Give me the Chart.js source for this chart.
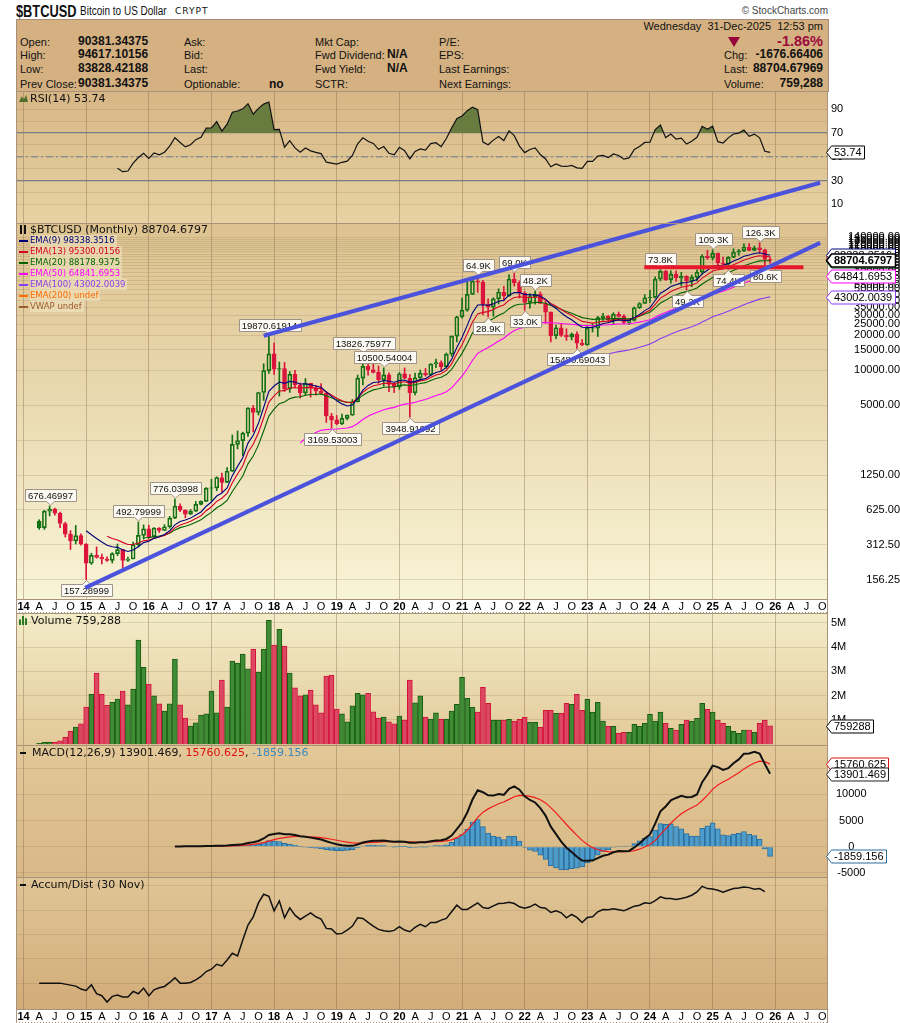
<!DOCTYPE html>
<html>
<head>
<meta charset="utf-8">
<title>$BTCUSD Monthly</title>
<script src="https://cdn.jsdelivr.net/npm/chart.js@4.4.1/dist/chart.umd.min.js"></script>
<style>
  body { margin: 0; background: #fff; }
  #page { position: relative; width: 900px; height: 1023px; overflow: hidden; font-family: "Liberation Sans", Arial, sans-serif; color: #111; }
  canvas { position: absolute; left: 16px; }
  .t { position: absolute; white-space: nowrap; font-size: 11px; line-height: 14px; z-index: 5; }
  .v { font-weight: bold; font-size: 12px; }
  .lg { position: absolute; white-space: nowrap; font-family: "DejaVu Sans", Verdana, sans-serif; z-index: 5; line-height: 12px; font-size: 11px; }
  .ema { font-size: 8.5px; line-height: 11px; background: rgba(243,232,196,0.55); padding-right: 2px; }
  .ico { position: absolute; left: -11px; top: 5px; width: 9px; height: 2px; }
  #hdr { position: absolute; left: 16px; top: 19px; width: 811px; height: 72px; background: #d5b182; border: 1px solid #a88e78; border-bottom: none; }
</style>
</head>
<body>
<div id="page">
  <div class="t" style="left:16px;top:3px;font:bold 16px 'Liberation Sans',Arial;transform:scaleX(0.8);transform-origin:left">$BTCUSD</div>
  <div class="t" style="left:80px;top:4px;font-size:12.5px;transform:scaleX(0.8);transform-origin:left">Bitcoin to US Dollar</div>
  <div class="t" style="left:175px;top:6px;font:9px 'DejaVu Sans';letter-spacing:1px">CRYPT</div>
  <div class="t" style="right:72px;top:4px;font-size:10px;color:#444">&#169; StockCharts.com</div>
  <div id="hdr"></div>

  <div class="t" style="left:20px;top:35px">Open:</div>
  <div class="t" style="left:20px;top:48px">High:</div>
  <div class="t" style="left:20px;top:62px">Low:</div>
  <div class="t" style="left:20px;top:77px">Prev Close:</div>
  <div class="t v" style="left:78px;top:34px">90381.34375</div>
  <div class="t v" style="left:78px;top:47px">94617.10156</div>
  <div class="t v" style="left:78px;top:61px">83828.42188</div>
  <div class="t v" style="left:78px;top:76px">90381.34375</div>

  <div class="t" style="left:184px;top:35px">Ask:</div>
  <div class="t" style="left:184px;top:48px">Bid:</div>
  <div class="t" style="left:184px;top:62px">Last:</div>
  <div class="t" style="left:184px;top:77px">Optionable:</div>
  <div class="t v" style="left:269px;top:77px">no</div>

  <div class="t" style="left:315px;top:35px">Mkt Cap:</div>
  <div class="t" style="left:315px;top:48px">Fwd Dividend:</div>
  <div class="t" style="left:315px;top:62px">Fwd Yield:</div>
  <div class="t" style="left:315px;top:77px">SCTR:</div>
  <div class="t v" style="left:387px;top:47px">N/A</div>
  <div class="t v" style="left:387px;top:61px">N/A</div>

  <div class="t" style="left:439px;top:35px">P/E:</div>
  <div class="t" style="left:439px;top:48px">EPS:</div>
  <div class="t" style="left:439px;top:62px">Last Earnings:</div>
  <div class="t" style="left:439px;top:77px">Next Earnings:</div>

  <div class="t" style="right:77px;top:19px">Wednesday&nbsp; 31-Dec-2025&nbsp; 12:53 pm</div>
  <div class="t" style="left:728px;top:37px;width:0;height:0;border-left:6px solid transparent;border-right:6px solid transparent;border-top:10px solid #95053a"></div>
  <div class="t" style="right:77px;top:34px;font-weight:bold;font-size:14.5px;color:#9b0a3c">-1.86%</div>
  <div class="t" style="left:724px;top:48px">Chg:</div>
  <div class="t v" style="right:77px;top:47px">-1676.66406</div>
  <div class="t" style="left:724px;top:62px">Last:</div>
  <div class="t v" style="right:77px;top:61px">88704.67969</div>
  <div class="t" style="left:724px;top:77px">Volume:</div>
  <div class="t v" style="right:77px;top:76px">759,288</div>

  <canvas id="cRsi" width="884" height="132" style="top:91px"></canvas>
  <canvas id="cMain" width="884" height="522" style="top:91px"></canvas>
  <canvas id="cVol" width="884" height="132" style="top:613px"></canvas>
  <canvas id="cMacd" width="884" height="132" style="top:745px"></canvas>
  <canvas id="cAd" width="884" height="146" style="top:877px"></canvas>

  <div class="lg" style="left:30px;top:93px"><span class="ico" style="background:#4f6d2c;height:7px;top:2px;clip-path:polygon(0 100%,30% 20%,55% 60%,80% 0,100% 100%)"></span>RSI(14) 53.74</div>

  <div class="lg" style="left:30px;top:224px"><span class="ico" style="left:-10px;top:1px;width:7px;height:9px;background:linear-gradient(90deg,#111 0 2px,transparent 2px 4px,#111 4px 6px,transparent 6px)"></span>$BTCUSD (Monthly) 88704.6797</div>
  <div class="lg ema" style="left:30px;top:235px;color:#00007a"><span class="ico" style="background:#00007a"></span>EMA(9) 98338.3516</div>
  <div class="lg ema" style="left:30px;top:246px;color:#d40022"><span class="ico" style="background:#d40022"></span>EMA(13) 95300.0156</div>
  <div class="lg ema" style="left:30px;top:257px;color:#006400"><span class="ico" style="background:#006400"></span>EMA(20) 88178.9375</div>
  <div class="lg ema" style="left:30px;top:268px;color:#ff00ff"><span class="ico" style="background:#ff00ff"></span>EMA(50) 64841.6953</div>
  <div class="lg ema" style="left:30px;top:279px;color:#8a3cf0"><span class="ico" style="background:#8a3cf0"></span>EMA(100) 43002.0039</div>
  <div class="lg ema" style="left:30px;top:290px;color:#ff6a00"><span class="ico" style="background:#ff6a00"></span>EMA(200) undef</div>
  <div class="lg ema" style="left:30px;top:301px;color:#9a5a2a"><span class="ico" style="background:#9a5a2a"></span>VWAP undef</div>

  <div class="lg" style="left:31px;top:615px"><span class="ico" style="left:-12px;top:1px;width:9px;height:9px;background:linear-gradient(90deg,#2a7a22 0 2px,transparent 2px 3px,#2a7a22 3px 5px,transparent 5px 6px,#2a7a22 6px 8px,transparent 8px);clip-path:polygon(0 40%,30% 40%,30% 0,60% 0,60% 25%,100% 25%,100% 100%,0 100%)"></span>Volume 759,288</div>
  <div class="lg" style="left:32px;top:747px"><span class="ico" style="left:-12px;background:#111;width:6px"></span>MACD(12,26,9) 13901.469, <span style="color:#e01010">15760.625</span>, <span style="color:#3a8ac0">-1859.156</span></div>
  <div class="lg" style="left:31px;top:879px"><span class="ico" style="left:-11px;background:#111;width:6px"></span>Accum/Dist (30 Nov)</div>
</div>

<script>
// month index counted from Jan 2014; first monthly bar is Apr 2014
const FIRST_MONTH = 3;

const opens = [
  500, 440, 610, 635, 586, 478, 387, 338, 376,
  318, 217, 254, 244, 236, 230, 263, 284, 230, 236, 314, 377,
  430, 368, 437, 416, 448, 531, 673, 624, 575, 609, 698, 742,
  964, 970, 1190, 1080, 1348, 2300, 2480, 2875, 4735, 4340, 6440, 9946,
  13860, 10220, 10330, 6930, 9240, 7500, 6390, 7730, 7010, 6625, 6320, 4040,
  3740, 3460, 3850, 4100, 5350, 8570, 10820, 10080, 9600, 8300, 9150, 7560,
  7200, 9350, 8540, 6410, 8630, 9450, 9140, 11350, 11660, 10780, 13800, 19700,
  29000, 33100, 45240, 58800, 57700, 37300, 35040, 41460, 47100, 43800, 61300, 57000,
  46300, 38500, 43200, 45500, 37700, 31800, 19950, 23300, 20000, 19430, 20500, 17170,
  16550, 23140, 23150, 28480, 29270, 27220, 30480, 29230, 25940, 26970, 34660, 37720,
  42280, 42580, 61200, 71300, 60650, 67500, 62700, 64600, 58970, 63300, 70200, 96400,
  93400, 102400, 84300, 82500, 94200, 104600, 107100, 115800, 108300, 114100, 109600, 90381.34
];
const highs = [
  515, 620, 676.47, 650, 600, 490, 415, 460, 390,
  320, 265, 300, 260, 247, 268, 318, 286, 245, 330, 492.8, 465,
  462, 440, 440, 467, 550, 776.04, 705, 627, 630, 740, 750, 975,
  1150, 1210, 1300, 1450, 2770, 3000, 2930, 4770, 4980, 6470, 11400, 19870.62,
  17180, 11790, 11700, 9760, 9990, 7760, 8490, 7750, 7400, 7680, 6550, 4260,
  4070, 4200, 4130, 5600, 9100, 13826.76, 13180, 12330, 10900, 10500.54, 9500, 7750,
  9580, 10500, 9190, 9470, 10070, 10380, 11450, 12480, 12080, 14100, 19860, 29300,
  41950, 58350, 61800, 64900, 59600, 41300, 42300, 50500, 52900, 67000, 69000, 59100,
  47900, 45800, 48200, 47400, 40000, 31900, 24600, 25200, 22800, 21000, 21450, 18400,
  23950, 25250, 29200, 31000, 29820, 31400, 31800, 30200, 27500, 35200, 38450, 45000,
  48970, 64000, 73800, 72800, 71950, 72000, 70000, 65600, 66500, 73600, 99600, 108300,
  109300, 102800, 95000, 95800, 112000, 110600, 123200, 124400, 117900, 126300, 111200, 94617.1
];
const lows = [
  425, 425, 555, 565, 440, 365, 285, 318, 310,
  157.29, 212, 240, 214, 225, 218, 253, 198, 225, 236, 300, 350,
  355, 365, 400, 415, 435, 525, 605, 535, 570, 605, 690, 740,
  750, 915, 890, 1080, 1340, 2100, 1840, 2690, 2950, 4120, 5500, 9400,
  9200, 6000, 6580, 6450, 7050, 5780, 6120, 5880, 6100, 6180, 3550, 3169.53,
  3400, 3400, 3740, 4090, 5330, 7470, 9100, 9500, 7730, 7300, 6550, 6430,
  6860, 8460, 3948.92, 6150, 8130, 8900, 8980, 10530, 9900, 10400, 13240, 17600,
  28130, 32300, 45000, 47050, 30000, 28900, 29300, 37400, 39600, 43300, 53300, 42000,
  33000, 34300, 37200, 37500, 25400, 17600, 18800, 19600, 18150, 18300, 15480.69, 16300,
  16500, 21400, 19600, 26940, 25800, 24800, 28860, 25300, 24900, 26560, 34100, 37600,
  38500, 41900, 59100, 59600, 56550, 58400, 53500, 49200, 52600, 58900, 66800, 90600,
  89200, 78200, 76600, 74400, 93400, 98200, 105300, 107400, 107300, 102000, 80600, 83828.42
];
const closes = [
  440, 610, 635, 586, 478, 387, 338, 376, 318,
  217, 254, 244, 236, 230, 263, 284, 230, 236, 314, 377, 430,
  368, 437, 416, 448, 531, 673, 624, 575, 609, 698, 742, 964,
  970, 1190, 1080, 1348, 2300, 2480, 2875, 4735, 4340, 6440, 9946, 13860,
  10220, 10330, 6930, 9240, 7500, 6390, 7730, 7010, 6625, 6320, 4040, 3740,
  3460, 3850, 4100, 5350, 8570, 10820, 10080, 9600, 8300, 9150, 7560, 7200,
  9350, 8540, 6410, 8630, 9450, 9140, 11350, 11660, 10780, 13800, 19700, 29000,
  33100, 45240, 58800, 57700, 37300, 35040, 41460, 47100, 43800, 61300, 57000, 46300,
  38500, 43200, 45500, 37700, 31800, 19950, 23300, 20000, 19430, 20500, 17170, 16550,
  23140, 23150, 28480, 29270, 27220, 30480, 29230, 25940, 26970, 34660, 37720, 42280,
  42580, 61200, 71300, 60650, 67500, 62700, 64600, 58970, 63300, 70200, 96400, 93400,
  102400, 84300, 82500, 94200, 104600, 107100, 115800, 108300, 114100, 109600, 90381.34, 88704.68
];
// millions
const volumes = [
  0.04, 0.08, 0.08, 0.08, 0.14, 0.30, 0.53, 0.71, 0.84,
  1.53, 2.05, 2.93, 2.05, 1.60, 1.73, 1.86, 2.19, 1.62, 2.27, 4.29, 3.16,
  2.48, 1.99, 1.66, 1.37, 1.66, 3.50, 1.62, 1.08, 0.75, 0.88, 1.19, 1.25,
  2.19, 1.29, 2.64, 1.53, 3.42, 3.34, 3.71, 3.10, 3.92, 2.97, 3.92, 5.10,
  4.08, 4.73, 4.04, 2.93, 2.32, 1.99, 2.03, 2.23, 1.62, 1.29, 2.81, 2.85,
  1.45, 1.25, 0.92, 1.58, 2.10, 2.03, 2.10, 1.33, 1.08, 1.12, 0.92, 0.84,
  1.16, 1.00, 2.64, 1.70, 1.99, 1.12, 1.04, 1.29, 1.04, 1.04, 1.37, 1.64,
  2.75, 1.89, 1.52, 1.32, 2.34, 1.68, 0.99, 0.99, 0.99, 1.03, 0.95, 1.03,
  1.11, 0.90, 0.90, 0.70, 1.40, 1.40, 1.27, 1.27, 1.68, 1.64, 2.05, 1.40,
  1.85, 1.32, 1.73, 0.95, 0.74, 0.74, 0.45, 0.49, 0.49, 0.82, 0.74, 0.86,
  1.23, 0.95, 1.32, 0.86, 0.66, 0.58, 0.82, 0.99, 0.95, 1.07, 1.68, 1.44,
  1.32, 0.99, 0.86, 0.74, 0.53, 0.45, 0.58, 0.58, 0.49, 0.86, 0.99, 0.759288
];
// Accum/Dist line, unlabelled units, last value 30 Nov 2025
const accumDist = [
  80, 80, 80, 80, 80, 77, 74, 71, 62,
  58, 75, 48, 42, 23, 40, 44, 38, 38, 55, 48, 65,
  42, 60, 66, 70, 82, 96, 80, 80, 82, 90, 100, 115,
  122, 137, 132, 150, 170, 162, 210, 255, 280, 322, 348, 342,
  298, 328, 277, 307, 285, 272, 282, 292, 280, 273, 245, 243,
  228, 230, 240, 252, 277, 275, 263, 252, 242, 238, 236, 239,
  250, 240, 235, 248, 257, 250, 263, 263, 270, 275, 295, 315,
  302, 302, 312, 322, 308, 305, 313, 320, 321, 324, 320, 310,
  306, 310, 318, 308, 306, 293, 298, 292, 277, 287, 278, 263,
  278, 280, 295, 302, 301, 304, 301, 298, 305, 312, 315, 322,
  320, 329, 340, 335, 335, 332, 335, 339, 345, 355, 372, 365,
  364, 360, 354, 360, 365, 367, 370, 368, 363, 365, 356
];

const quarterLetters = ['A', 'J', 'O'];
const priceTicks = [156.25, 312.5, 625, 1250, 2500, 5000, 10000, 15000, 20000, 25000, 30000, 35000,
  40000, 45000, 50000, 55000, 60000, 65000, 70000, 75000, 80000, 85000, 90000, 95000, 100000,
  105000, 110000, 115000, 120000, 125000, 130000, 135000, 140000];
const rsiTicks = [10, 20, 30, 40, 50, 60, 70, 80, 90];
const volumeTicks = [1, 2, 3, 4, 5];
const macdTicks = [-5000, 0, 5000, 10000, 15000];
const adTicks = [80, 153.5, 227, 300.5, 374];

const emaPeriods = [9, 13, 20, 50, 100];
const emaColors = ['#00007a', '#d40022', '#006400', '#ff00ff', '#8a3cf0'];
const emaLast = [98338.3516, 95300.0156, 88178.9375, 64841.6953, 43002.0039];

const upperTrend = [{ m: 46, v: 19870 }, { m: 152.6, v: 415000 }];
const lowerTrend = [{ m: 11.8, v: 133 }, { m: 152.6, v: 125800 }];
const resistance = [{ m: 118.9, v: 77300 }, { m: 149.4, v: 77300 }];

// [bar index, text, H = above high / L = below low]
const callouts = [
  [2, '676.46997', 'H'], [9, '157.28999', 'L'], [19, '492.79999', 'H'], [26, '776.03998', 'H'],
  [44, '19870.61914', 'H'], [56, '3169.53003', 'L'], [62, '13826.75977', 'H'], [66, '10500.54004', 'H'],
  [71, '3948.91992', 'L'], [84, '64.9K', 'H'], [86, '28.9K', 'L'], [91, '69.0K', 'H'],
  [93, '33.0K', 'L'], [95, '48.2K', 'H'], [103, '15480.69043', 'L'], [119, '73.8K', 'H'],
  [124, '49.2K', 'L'], [129, '109.3K', 'H'], [132, '74.4K', 'L'], [138, '126.3K', 'H'], [139, '80.6K', 'L']
];

const X_MIN = -1.44, X_MAX = 154.1;
const GRID_YEAR = 'rgba(130,100,70,0.38)';
const GRID_H = 'rgba(140,110,70,0.2)';
const UP = '#137013', DOWN = '#dc143c';
const AXIS_FONT = { family: '"Liberation Sans", Arial, sans-serif', size: 11 };

// ---- indicators from the closes ----
function ema(vals, n) {
  const out = vals.map(() => null);
  if (vals.length < n) return out;
  const k = 2 / (n + 1);
  let e = vals.slice(0, n).reduce((a, b) => a + b, 0) / n;
  out[n - 1] = e;
  for (let i = n; i < vals.length; i++) { e += k * (vals[i] - e); out[i] = e; }
  return out;
}

function rsi(vals, n) {
  const out = vals.map(() => null);
  let g = 0, l = 0;
  for (let i = 1; i <= n; i++) {
    const d = vals[i] - vals[i - 1];
    if (d > 0) g += d; else l -= d;
  }
  g /= n; l /= n;
  out[n] = 100 - 100 / (1 + g / l);
  for (let i = n + 1; i < vals.length; i++) {
    const d = vals[i] - vals[i - 1];
    g = (g * (n - 1) + Math.max(d, 0)) / n;
    l = (l * (n - 1) + Math.max(-d, 0)) / n;
    out[i] = l === 0 ? 100 : 100 - 100 / (1 + g / l);
  }
  return out;
}

const mx = k => k + FIRST_MONTH;
const rising = closes.map((c, k) => k === 0 ? true : c >= closes[k - 1]);
const barColor = rising.map(r => r ? UP : DOWN);

const ema12 = ema(closes, 12), ema26 = ema(closes, 26);
const macd = closes.map((c, k) => (ema12[k] !== null && ema26[k] !== null) ? ema12[k] - ema26[k] : null);
const macdStart = 25;
const sigPart = ema(macd.slice(macdStart), 9);
const signal = macd.map((v, k) => k >= macdStart ? sigPart[k - macdStart] : null);
const rsiVals = rsi(closes, 14);

const pts = (arr, from) => arr.map((v, k) => (k >= from && v !== null) ? { x: mx(k), y: v } : null).filter(Boolean);

// ---- shared pieces ----
Chart.defaults.animation = false;
Chart.defaults.responsive = false;
Chart.defaults.events = [];
Chart.defaults.plugins.legend.display = false;
Chart.defaults.plugins.tooltip.enabled = false;

const panelPlugin = {
  id: 'panel',
  defaults: { top: '#fff', bottom: '#fff', strip: 0 },
  beforeDraw(chart, args, o) {
    const { ctx, chartArea: a } = chart;
    ctx.save();
    const g = ctx.createLinearGradient(0, a.top, 0, a.bottom);
    g.addColorStop(0, o.top);
    g.addColorStop(1, o.bottom);
    ctx.fillStyle = g;
    ctx.fillRect(a.left, a.top, a.right - a.left, a.bottom - a.top);
    if (o.strip) {
      ctx.fillStyle = '#fff';
      ctx.fillRect(a.left, a.bottom, a.right - a.left, o.strip);
    }
    ctx.restore();
  },
  afterDraw(chart, args, o) {
    const { ctx, chartArea: a } = chart;
    ctx.save();
    ctx.strokeStyle = '#a8927c';
    ctx.lineWidth = 1;
    ctx.strokeRect(a.left + 0.5, a.top + 0.5, a.right - a.left - 1, a.bottom - a.top);
    if (o.strip) {
      ctx.beginPath();
      ctx.moveTo(a.left + 0.5, a.bottom); ctx.lineTo(a.left + 0.5, a.bottom + o.strip);
      ctx.moveTo(a.right - 0.5, a.bottom); ctx.lineTo(a.right - 0.5, a.bottom + o.strip);
      ctx.stroke();
      ctx.setLineDash([1, 2]);
      ctx.beginPath();
      ctx.moveTo(a.left, a.bottom + o.strip - 0.5); ctx.lineTo(a.right, a.bottom + o.strip - 0.5);
      ctx.stroke();
    }
    ctx.restore();
  }
};
Chart.register(panelPlugin);

function tagPlugin(items) {
  return {
    id: 'tags',
    afterDraw(chart) {
      const { ctx, chartArea: a } = chart;
      const sc = chart.scales.y;
      ctx.save();
      ctx.textBaseline = 'middle';
      items.forEach(t => {
        const y = Math.round(sc.getPixelForValue(t.v)) + 0.5;
        ctx.font = (t.bold ? 'bold ' : '') + '11px "Liberation Sans", Arial, sans-serif';
        const w = Math.ceil(ctx.measureText(t.text).width) + 5;
        const x0 = a.right - 1.5, x1 = x0 + 5;
        ctx.beginPath();
        ctx.moveTo(x0, y);
        ctx.lineTo(x1, y - 6.5);
        ctx.lineTo(x1 + w, y - 6.5);
        ctx.lineTo(x1 + w, y + 6.5);
        ctx.lineTo(x1, y + 6.5);
        ctx.closePath();
        ctx.fillStyle = '#fff';
        ctx.fill();
        ctx.lineWidth = t.bold ? 1.6 : 1;
        ctx.strokeStyle = t.color;
        ctx.stroke();
        ctx.fillStyle = '#000';
        ctx.fillText(t.text, x1 + 2.5, y + 0.5);
      });
      ctx.restore();
    }
  };
}

function xAxis(labels) {
  return {
    type: 'linear', min: X_MIN, max: X_MAX, offset: false,
    afterFit: s => { s.height = labels ? 14 : 0; s.paddingLeft = 0; s.paddingRight = 0; },
    border: { display: false },
    grid: {
      offset: false, drawTicks: false, lineWidth: 1,
      color: c => (c.tick && c.tick.value % 12 === 0) ? GRID_YEAR : 'rgba(0,0,0,0)'
    },
    ticks: {
      display: labels, stepSize: 3, autoSkip: false, maxRotation: 0, minRotation: 0,
      includeBounds: false, padding: 1, color: '#000',
      font: c => ({ family: AXIS_FONT.family, size: 11, weight: (c.tick && c.tick.value % 12 === 0) ? 'bold' : 'normal' }),
      callback: v => {
        if (v < 0 || v % 3 !== 0) return '';
        return v % 12 === 0 ? String(14 + v / 12) : quarterLetters[(v % 12) / 3 - 1];
      }
    }
  };
}

function yAxis(extra) {
  const tickVals = extra.tickValues;
  const base = {
    position: 'right',
    afterFit: s => { s.width = 72; s.paddingTop = 0; s.paddingBottom = 0; },
    afterBuildTicks: s => { s.ticks = tickVals.map(v => ({ value: v })); },
    border: { display: false },
    grid: { color: GRID_H, drawTicks: false, lineWidth: 1 },
    ticks: { autoSkip: false, padding: 3, color: '#000', font: AXIS_FONT, crossAlign: 'near' }
  };
  const merged = Object.assign({}, base, extra.scale);
  merged.ticks = Object.assign({}, base.ticks, extra.ticks || {});
  if (extra.grid) merged.grid = Object.assign({}, base.grid, extra.grid);
  return merged;
}

const layoutOpts = top => ({ padding: { top: top || 0, left: 0, right: 0, bottom: 0 }, autoPadding: false });

// ---- RSI ----
new Chart(document.getElementById('cRsi'), {
  type: 'line',
  data: {
    datasets: [
      {
        data: [{ x: X_MIN, y: 50 }, { x: X_MAX, y: 50 }],
        borderColor: '#6d7c92', borderWidth: 1, borderDash: [7, 3, 2, 3], pointRadius: 0, order: 2
      },
      {
        data: pts(rsiVals, 15),
        borderColor: '#111', borderWidth: 1.2, pointRadius: 0, tension: 0, order: 1,
        fill: { target: { value: 70 }, above: '#687c40', below: 'rgba(0,0,0,0)' }
      }
    ]
  },
  options: {
    devicePixelRatio: 1,
    layout: layoutOpts(0),
    scales: {
      x: xAxis(false),
      y: yAxis({
        tickValues: rsiTicks,
        scale: { type: 'linear', min: -5.7, max: 105.4 },
        grid: {
          color: c => (c.tick && (c.tick.value === 70 || c.tick.value === 30)) ? '#7b7b88' : GRID_H,
          lineWidth: c => (c.tick && (c.tick.value === 70 || c.tick.value === 30)) ? 1.3 : 1
        },
        ticks: { callback: v => (v % 20 === 10) ? String(v) : '' }
      })
    },
    plugins: { panel: { top: '#d7b684', bottom: '#e7d3a4' } }
  },
  plugins: [tagPlugin([{ v: 53.74, text: '53.74', color: '#000' }])]
});

// ---- price panel ----
const bodyLow = opens.map((o, k) => Math.min(o, closes[k]));
const bodyHigh = opens.map((o, k) => Math.max(o, closes[k]));
let calloutsDone = false;

const calloutPlugin = {
  id: 'callouts',
  beforeDraw() { calloutsDone = false; },
  beforeDatasetDraw(chart, args) {
    if (calloutsDone || !chart.data.datasets[args.index].isTrend) return;
    calloutsDone = true;
    const { ctx } = chart;
    const xs = chart.scales.x, ys = chart.scales.y;
    ctx.save();
    ctx.font = '9.5px "Liberation Sans", Arial, sans-serif';
    ctx.textAlign = 'center';
    ctx.textBaseline = 'middle';
    callouts.forEach(([k, text, side]) => {
      const x = Math.round(xs.getPixelForValue(mx(k))) + 0.5;
      const below = side === 'L';
      const py = ys.getPixelForValue(below ? lows[k] : highs[k]);
      const w = Math.ceil(ctx.measureText(text).width) + 6, h = 12;
      const tip = below ? py + 1 : py - 1;
      const by = below ? Math.round(tip + 4) + 0.5 : Math.round(tip - 4 - h) + 0.5;
      const bx = Math.round(x - w / 2) + 0.5;
      ctx.beginPath();
      if (!below) {
        ctx.moveTo(bx, by); ctx.lineTo(bx + w, by); ctx.lineTo(bx + w, by + h);
        ctx.lineTo(x + 4, by + h); ctx.lineTo(x, tip); ctx.lineTo(x - 4, by + h);
        ctx.lineTo(bx, by + h); ctx.closePath();
      } else {
        ctx.moveTo(bx, by); ctx.lineTo(x - 4, by); ctx.lineTo(x, tip); ctx.lineTo(x + 4, by);
        ctx.lineTo(bx + w, by); ctx.lineTo(bx + w, by + h); ctx.lineTo(bx, by + h); ctx.closePath();
      }
      ctx.fillStyle = '#fcfaf2';
      ctx.fill();
      ctx.strokeStyle = '#9d9389';
      ctx.lineWidth = 1;
      ctx.stroke();
      ctx.fillStyle = '#111';
      ctx.fillText(text, x, by + h / 2 + 0.5);
    });
    ctx.restore();
  }
};

const emaSets = emaPeriods.map((p, i) => ({
  type: 'line',
  data: pts(ema(closes, p), p),
  borderColor: emaColors[i], borderWidth: 1.1, pointRadius: 0, tension: 0, order: 1
}));

const trendSet = (pts2, color, width) => ({
  type: 'line', isTrend: true,
  data: pts2.map(p => ({ x: p.m, y: p.v })),
  borderColor: color, borderWidth: width, pointRadius: 0, clip: false, order: 0
});

new Chart(document.getElementById('cMain'), {
  type: 'bar',
  data: {
    datasets: [
      trendSet(upperTrend, '#4b52dc', 4),
      trendSet(lowerTrend, '#4b52dc', 4),
      trendSet(resistance, '#e8182c', 4),
      ...emaSets,
      {
        data: closes.map((c, k) => ({ x: mx(k), y: [bodyLow[k], bodyHigh[k]] })),
        backgroundColor: closes.map((c, k) => c > opens[k] ? 'rgba(0,0,0,0)' : barColor[k]),
        borderColor: barColor, borderWidth: 1, borderSkipped: false,
        barThickness: 4, grouped: false, order: 2
      },
      {
        data: highs.map((h, k) => ({ x: mx(k), y: [bodyHigh[k], h] })),
        backgroundColor: barColor, borderWidth: 0, barThickness: 1, grouped: false, order: 3
      },
      {
        data: lows.map((l, k) => ({ x: mx(k), y: [l, bodyLow[k]] })),
        backgroundColor: barColor, borderWidth: 0, barThickness: 1, grouped: false, order: 3
      }
    ]
  },
  options: {
    devicePixelRatio: 1,
    layout: layoutOpts(132),
    scales: {
      x: xAxis(true),
      y: yAxis({
        tickValues: priceTicks,
        scale: { type: 'logarithmic', min: 106.7, max: 186450 },
        ticks: { crossAlign: 'far', callback: v => v === 2500 ? '' : Number(v).toFixed(2) }
      })
    },
    plugins: { panel: { top: '#ddc28f', bottom: '#f8f4d6', strip: 14 } }
  },
  plugins: [calloutPlugin, tagPlugin([
    { v: emaLast[4], text: '43002.0039', color: emaColors[4] },
    { v: emaLast[3], text: '64841.6953', color: emaColors[3] },
    { v: emaLast[2], text: '88178.9375', color: emaColors[2] },
    { v: emaLast[1], text: '95300.0156', color: emaColors[1] },
    { v: emaLast[0], text: '98338.3516', color: emaColors[0] },
    { v: closes[closes.length - 1], text: '88704.6797', color: '#000', bold: true }
  ])]
});

// ---- volume ----
new Chart(document.getElementById('cVol'), {
  type: 'bar',
  data: {
    datasets: [{
      data: volumes.map((v, k) => ({ x: mx(k), y: v })),
      backgroundColor: rising.map(r => r ? '#3f8c35' : '#dc4862'),
      borderColor: rising.map(r => r ? '#185c14' : '#d3123a'),
      borderWidth: 1, barThickness: 5, grouped: false
    }]
  },
  options: {
    devicePixelRatio: 1,
    layout: layoutOpts(0),
    scales: {
      x: xAxis(false),
      y: yAxis({
        tickValues: volumeTicks,
        scale: { type: 'linear', min: -0.03, max: 5.4 },
        ticks: { callback: v => v + 'M' }
      })
    },
    plugins: { panel: { top: '#f3ecc8', bottom: '#e2c999' } }
  },
  plugins: [tagPlugin([{ v: volumes[volumes.length - 1], text: '759288', color: '#000' }])]
});

// ---- MACD ----
new Chart(document.getElementById('cMacd'), {
  type: 'bar',
  data: {
    datasets: [
      {
        type: 'line', data: pts(macd, 26),
        borderColor: '#111', borderWidth: 2, pointRadius: 0, tension: 0, order: 0
      },
      {
        type: 'line', data: pts(signal, 34),
        borderColor: '#f01c1c', borderWidth: 1.2, pointRadius: 0, tension: 0, order: 1
      },
      {
        data: pts(macd.map((v, k) => signal[k] === null ? null : v - signal[k]), 34),
        backgroundColor: '#4c9ccc', borderColor: '#2b6d9c', borderWidth: 1,
        barThickness: 5, grouped: false, order: 2
      }
    ]
  },
  options: {
    devicePixelRatio: 1,
    layout: layoutOpts(0),
    scales: {
      x: xAxis(false),
      y: yAxis({
        tickValues: macdTicks,
        scale: { type: 'linear', min: -5782, max: 19408 },
        ticks: { crossAlign: 'center', padding: 8, callback: v => String(v) }
      })
    },
    plugins: { panel: { top: '#e3c898', bottom: '#d8b886' } }
  },
  plugins: [tagPlugin([
    { v: 15760.625, text: '15760.625', color: '#e01010' },
    { v: 13901.469, text: '13901.469', color: '#222' },
    { v: -1859.156, text: '-1859.156', color: '#2b6d9c' }
  ])]
});

// ---- Accum/Dist ----
new Chart(document.getElementById('cAd'), {
  type: 'line',
  data: {
    datasets: [{
      data: accumDist.map((v, k) => ({ x: mx(k), y: v })),
      borderColor: '#111', borderWidth: 1.5, pointRadius: 0, tension: 0
    }]
  },
  options: {
    devicePixelRatio: 1,
    layout: layoutOpts(0),
    scales: {
      x: xAxis(true),
      y: yAxis({
        tickValues: adTicks,
        scale: { type: 'linear', min: 2, max: 400 },
        ticks: { callback: () => '' }
      })
    },
    plugins: { panel: { top: '#e0c596', bottom: '#d2ac79', strip: 14 } }
  }
});
</script>
</body>
</html>
